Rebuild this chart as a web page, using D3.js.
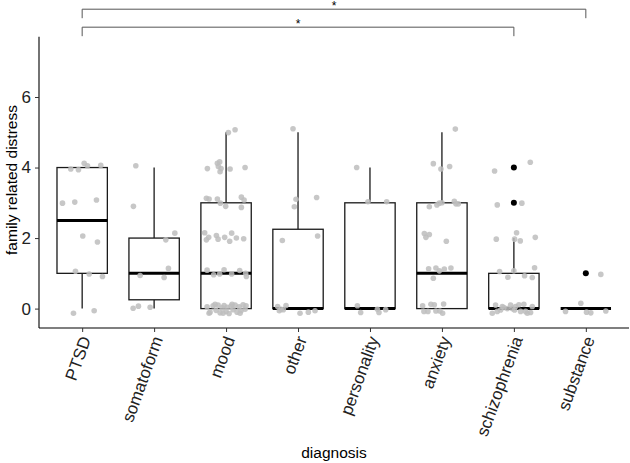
<!DOCTYPE html>
<html><head><meta charset="utf-8">
<script src="https://cdn.jsdelivr.net/npm/d3@7"></script>
<style>body{margin:0;background:#fff}svg{display:block}text{font-family:"Liberation Sans",Arial,sans-serif}</style>
</head><body><svg id="c" width="630" height="463"></svg>
<script>
const categories = ["PTSD","somatoform","mood","other","personality","anxiety","schizophrenia","substance"];
// box statistics per category
const q1 =        [1,   0.25, 0, 0,    0, 0, 0, 0];
const medians =   [2.5, 1,    1, 0,    0, 1, 0, 0];
const q3 =        [4,   2,    3, 2.25, 3, 3, 1, 0];
const whiskerLo = [0,   0,    0, 0,    0, 0, 0, 0];
const whiskerHi = [4,   4,    5, 5,    4, 5, 2, 0];
const outliers = [["schizophrenia",3],["schizophrenia",4],["substance",1]];
const yTicks = [0,2,4,6];
const jitterPTSD = [[-11.4,3.96],[-3.7,3.94],[2,4.12],[5.3,4.05],[18.6,4.06],[-19.7,2.99],[-7.4,3.02],[14.3,3.08],[0.6,2.06],[15.3,1.89],[-6.7,1.06],[7,0.98],[20.3,0.91],[-8.7,-0.13],[12,-0.06]];
const jitterSomatoform = [[-18.3,4.05],[-20.7,2.9],[20.7,2.14],[11.7,1.95],[14.3,1.14],[-14,0.94],[10,0.88],[-21,0.01],[-15.7,0.07],[-4,0.04]];
const jitterMood = [[2.3,4.99],[9,5.07],[-18.7,3.97],[-8.7,4.12],[-6.4,4.16],[-7.7,4.03],[-5,3.97],[-6,3.88],[4,3.96],[19,4.0],
 [-19.7,3.13],[-17,3.11],[-8.7,3.11],[-5.7,2.99],[-0.4,2.9],[15.3,3.16],[18,3.08],[15.3,2.87],
 [-21.4,2.15],[-19.7,1.95],[-17.4,2.02],[-9.7,2.07],[-8,1.97],[-1.4,2.02],[3.6,1.91],[5.6,2.14],[10.3,2.0],[17.6,1.98],
 [-19,1.09],[-12.4,0.96],[-6.4,0.98],[-2,1.1],[5.6,0.98],[13.6,1.08],[20.3,0.91],[19.6,1.0],
 [-19,0.05],[-16,-0.1],[-13,0.08],[-10,-0.05],[-8,0.1],[-6,-0.12],[-4,0.02],[-2,0.09],[0,-0.08],[1,0.04],[3,-0.14],[5,0.07],[7,-0.03],[9,0.1],[11,-0.1],[13,0.05],[15,-0.06],[17,0.11],[19,-0.02],[20,0.08],[-17,-0.13],[-11,0.12],[-3,-0.13],[6,0.12],[14,-0.13]];
const jitterOther = [[-5,5.1],[-2,3.1],[-3.7,2.89],[18.6,3.15],[-15.7,1.93],[19.6,2.06],[-20.4,0.06],[-18.7,-0.06],[-14.7,-0.03],[-12,0.09],[2,-0.13],[10.3,-0.1],[17,-0.06],[-17,-0.02]];
const jitterPersonality = [[-13.3,4.0],[-2,3.03],[16.7,3.03],[-12.6,0.08],[-9.3,-0.11],[7.4,-0.02],[9,-0.11],[15.7,-0.03]];
const jitterAnxiety = [[13.4,5.09],[-8.6,4.11],[-1,3.96],[7.7,4.03],
 [-12.6,2.89],[-5,2.94],[-2.6,2.99],[0,3.0],[12.4,3.04],[14,2.97],[16.4,2.97],
 [-17.6,2.13],[-16,2.02],[-12.6,2.1],[4.4,1.91],
 [-13.3,1.13],[-6,1.15],[-2.6,1.07],[2.4,1.12],[9,1.15],[-8.6,0.86],
 [-19.3,0.08],[-11,0.12],[-7.6,0.11],[1.7,0.13],[-18,-0.08],[-14,-0.08],[-6,-0.07],[-2,-0.07],[0.7,-0.13]];
const jitterSchizophrenia = [[-19.3,3.9],[16.4,4.15],[-16.6,2.94],[8,2.99],
 [2.7,2.15],[-17.6,1.97],[0.7,1.97],[6.4,1.92],[21.4,2.02],
 [-14.3,1.05],[-6,0.89],[0,1.07],[10.7,0.93],[18.4,0.88],[20.7,1.16],
 [-21.6,-0.13],[-18.3,0.1],[-16.6,-0.08],[-13.3,-0.04],[-11.6,0.06],[-6.6,0.0],[-3.3,0.1],[-1.6,0.0],[1.7,0.06],[5,0.11],[10,0.12],[13.4,-0.13],[16.7,-0.11],[18.4,0.06],[-10,0.03],[0.7,-0.04],[6.7,-0.08],[11.7,-0.08]];
const jitterSubstance = [[15,0.97],[-5,0.15],[-20.3,-0.08],[0.7,-0.1],[5,-0.12],[20,-0.07]];
const jitterGroups = [jitterPTSD,jitterSomatoform,jitterMood,jitterOther,jitterPersonality,jitterAnxiety,jitterSchizophrenia,jitterSubstance];
const comparisons = [["PTSD","substance",8.49,"*"],["PTSD","schizophrenia",7.98,"*"]];

const svg = d3.select("#c");
const x = d3.scalePoint().domain(categories).range([39,629]).padding(0.6);
const y = d3.scaleLinear().domain([-0.55,7.71]).range([328,36.7]);
const bw = x.step()*0.7;
const FONT = "Liberation Sans, Arial, sans-serif";

// boxes
const g = svg.append("g");
categories.forEach((c,i)=>{
  const cx = x(c);
  g.append("line").attr("x1",cx).attr("x2",cx).attr("y1",y(q3[i])).attr("y2",y(whiskerHi[i])).attr("stroke","#1a1a1a").attr("stroke-width",1.3);
  g.append("line").attr("x1",cx).attr("x2",cx).attr("y1",y(q1[i])).attr("y2",y(whiskerLo[i])).attr("stroke","#1a1a1a").attr("stroke-width",1.3);
  g.append("rect").attr("x",cx-bw/2).attr("width",bw).attr("y",y(q3[i])).attr("height",Math.max(0,y(q1[i])-y(q3[i])))
    .attr("fill","#fff").attr("stroke","#1a1a1a").attr("stroke-width",1.3);
  g.append("line").attr("x1",cx-bw/2).attr("x2",cx+bw/2).attr("y1",y(medians[i])).attr("y2",y(medians[i])).attr("stroke","#000").attr("stroke-width",3);
});
g.selectAll("circle.out").data(outliers).join("circle").attr("class","out")
  .attr("cx",d=>x(d[0])).attr("cy",d=>y(d[1])).attr("r",3).attr("fill","#000");

// jitter points
categories.forEach((c,i)=>{
  svg.append("g").selectAll("circle").data(jitterGroups[i]).join("circle")
    .attr("cx",d=>x(c)+d[0]).attr("cy",d=>y(d[1])).attr("r",2.8)
    .attr("fill","#bdbdbd").attr("fill-opacity",0.85);
});

// axes
const yAxis = svg.append("g").attr("transform","translate(39,0)")
  .call(d3.axisLeft(y).tickValues(yTicks).tickSize(4).tickPadding(4));
yAxis.select(".domain").attr("d","M0,36.7V328").attr("stroke","#000").attr("stroke-width",1.1);
yAxis.selectAll(".tick line").attr("stroke","#333");
yAxis.selectAll(".tick text").attr("font-size",17).attr("fill","#222").attr("font-family",FONT);

const xAxis = svg.append("g").attr("transform","translate(0,328)")
  .call(d3.axisBottom(x).tickSize(4).tickSizeOuter(0));
xAxis.select(".domain").attr("d","M39,0H629").attr("stroke","#000").attr("stroke-width",1.1);
xAxis.selectAll(".tick line").attr("stroke","#333");
xAxis.selectAll(".tick text").attr("font-size",17).attr("fill","#222").attr("font-family",FONT)
  .attr("text-anchor","end").attr("x",0).attr("y",0).attr("dy","0.35em")
  .attr("transform","translate(3,9) rotate(-70)");

// titles
svg.append("text").attr("x",334).attr("y",458).attr("text-anchor","middle").attr("font-size",15.5).attr("fill","#000").text("diagnosis");
svg.append("text").attr("transform","translate(17,180) rotate(-90)").attr("text-anchor","middle").attr("font-size",15.5).attr("fill","#000").text("family related distress");

// significance brackets
comparisons.forEach(([a,b,v,lab])=>{
  const yy = y(v), x1 = x(a), x2 = x(b), drop = 9;
  svg.append("path").attr("d",`M${x1},${yy+drop}V${yy}H${x2}V${yy+drop}`).attr("fill","none").attr("stroke","#555").attr("stroke-width",1);
  svg.append("text").attr("x",(x1+x2)/2).attr("y",yy+0.5).attr("text-anchor","middle").attr("font-size",12).attr("fill","#000").text(lab);
});
</script></body></html>
